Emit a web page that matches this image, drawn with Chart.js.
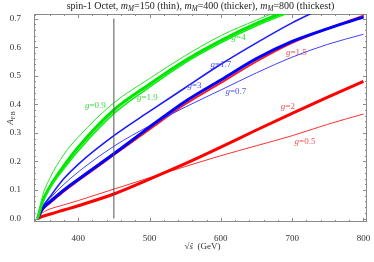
<!DOCTYPE html>
<html>
<head>
<meta charset="utf-8">
<script src="https://cdn.jsdelivr.net/npm/chart.js@4.4.0/dist/chart.umd.min.js"></script>
<style>
  html, body { margin: 0; padding: 0; background: #fff; }
</style>
</head>
<body>
<canvas id="afbChart" width="374" height="262"></canvas>
<script>
// sqrt(s) sample points (GeV)
const sqrtS = [343, 350, 360, 380, 400, 450, 500, 550, 600, 650, 700, 750, 800];

// green: g=0.9 (thin), g=1.9 (thicker), g=4 (thickest)
const green09 = [0, 0.08, 0.14, 0.225, 0.285, 0.405, 0.49, 0.57, 0.64, 0.695, 0.745, 0.79, 0.83];
const green19 = [0, 0.055, 0.105, 0.175, 0.237, 0.367, 0.46, 0.545, 0.615, 0.675, 0.725, 0.77, 0.81];
const green4 = [0, 0.06, 0.11, 0.185, 0.25, 0.38, 0.47, 0.553, 0.623, 0.683, 0.733, 0.778, 0.818];

// blue: g=0.7 (thin), g=1.7 (thicker), g=3 (thickest)
const blue07 = [0, 0.04, 0.07, 0.12, 0.163, 0.253, 0.325, 0.39, 0.45, 0.51, 0.565, 0.61, 0.645];
const blue17 = [0, 0.04, 0.075, 0.14, 0.19, 0.29, 0.375, 0.458, 0.54, 0.615, 0.685, 0.745, 0.80];
const blue3 = [0, 0.035, 0.058, 0.1, 0.137, 0.227, 0.32, 0.41, 0.485, 0.56, 0.62, 0.665, 0.705];

// red: g=0.5 (thin), g=1.5 (thicker), g=2 (thickest)
const red05 = [0, 0.02, 0.033, 0.048, 0.063, 0.103, 0.143, 0.182, 0.22, 0.255, 0.29, 0.33, 0.366];
const red15 = [0, 0.03, 0.053, 0.095, 0.132, 0.222, 0.312, 0.40, 0.475, 0.55, 0.615, 0.665, 0.71];
const red2 = [0, 0.008, 0.015, 0.03, 0.045, 0.086, 0.138, 0.192, 0.25, 0.31, 0.368, 0.425, 0.48];

// vertical marker
const cutX = 450;
const cutTop = 0.7;

// tick labels
const xTicks = [400, 500, 600, 700, 800];
const yTicks = [0, 0.1, 0.2, 0.3, 0.4, 0.5, 0.6, 0.7];

// curve labels
const labelText = ['0.9', '1.9', '4', '1.7', '3', '0.7', '1.5', '2', '0.5'];
const labelX = [424, 497, 625, 600, 563, 621, 706, 694, 718];
const labelY = [0.394, 0.422, 0.633, 0.54, 0.467, 0.443, 0.581, 0.392, 0.27];
const labelColor = ['#3fd93f', '#3fd93f', '#3fd93f', '#5050ee', '#5050ee', '#5050ee', '#f05050', '#f05050', '#f05050'];

const SERIF = '"Liberation Serif", "DejaVu Serif", serif';
const FRAME = '#8a8a8a';

function pts(ys) {
  return sqrtS.map((x, i) => ({ x: x, y: ys[i] }));
}

function curve(ys, color, width) {
  return {
    data: pts(ys),
    borderColor: color,
    borderWidth: width,
    pointRadius: 0,
    fill: false,
    cubicInterpolationMode: 'monotone'
  };
}

// draw a row of text pieces, centered at cx
function richText(ctx, pieces, cx, cy, size) {
  let total = 0;
  pieces.forEach(p => {
    ctx.font = (p.it ? 'italic ' : '') + (p.sub ? size * 0.72 : size) + 'px ' + SERIF;
    p.w = ctx.measureText(p.t).width;
    total += p.w;
  });
  let x = cx - total / 2;
  ctx.textAlign = 'left';
  ctx.textBaseline = 'middle';
  pieces.forEach(p => {
    ctx.font = (p.it ? 'italic ' : '') + (p.sub ? size * 0.72 : size) + 'px ' + SERIF;
    ctx.fillText(p.t, x, cy + (p.sub ? size * 0.3 : 0));
    x += p.w;
  });
}

const framePlugin = {
  id: 'frame',
  beforeDatasetsDraw(chart) {
    const ctx = chart.ctx;
    const a = chart.chartArea;
    const xs = chart.scales.x, ys = chart.scales.y;
    ctx.save();
    ctx.strokeStyle = FRAME;
    ctx.lineWidth = 1;
    ctx.strokeRect(a.left + 0.5, a.top + 0.5, a.right - a.left - 1, a.bottom - a.top - 1);
    ctx.beginPath();
    for (let v = 340; v <= 800; v += 20) {
      const px = Math.round(xs.getPixelForValue(v)) + 0.5;
      const len = v % 100 === 0 ? 4 : 2;
      ctx.moveTo(px, a.bottom); ctx.lineTo(px, a.bottom - len);
      ctx.moveTo(px, a.top); ctx.lineTo(px, a.top + len);
    }
    for (let k = 0; k <= 35; k++) {
      const py = Math.round(ys.getPixelForValue(k * 0.02)) + 0.5;
      const len = k % 5 === 0 ? 4 : 2;
      ctx.moveTo(a.left, py); ctx.lineTo(a.left + len, py);
      ctx.moveTo(a.right, py); ctx.lineTo(a.right - len, py);
    }
    ctx.stroke();
    ctx.restore();
  },
  afterDatasetsDraw(chart) {
    const ctx = chart.ctx;
    const xs = chart.scales.x, ys = chart.scales.y;
    ctx.save();
    labelText.forEach((t, i) => {
      ctx.fillStyle = labelColor[i];
      richText(ctx, [{ t: 'g', it: true }, { t: '=' + t }],
        xs.getPixelForValue(labelX[i]), ys.getPixelForValue(labelY[i]), 9);
    });
    ctx.restore();
  },
  afterDraw(chart) {
    const ctx = chart.ctx;
    const a = chart.chartArea;
    ctx.save();
    ctx.fillStyle = '#222';
    const mM = [{ t: 'm', it: true }, { t: 'M', it: true, sub: true }];
    richText(ctx, [{ t: 'spin-1 Octet, ' }, ...mM, { t: '=150 (thin), ' }, ...mM,
      { t: '=400 (thicker), ' }, ...mM, { t: '=800 (thickest)' }], (a.left + a.right) / 2, 6, 10);
    ctx.fillStyle = '#333';
    richText(ctx, [{ t: '\u221A' }, { t: 's\u0302', it: true }, { t: '  (GeV)' }], (a.left + a.right) / 2 + 2, 247, 9);
    ctx.translate(11, (a.top + a.bottom) / 2);
    ctx.rotate(-Math.PI / 2);
    richText(ctx, [{ t: 'A', it: true }, { t: 'FB', sub: true }], 0, 0, 9);
    ctx.restore();
  }
};

const ctx = document.getElementById('afbChart').getContext('2d');
const afbChart = new Chart(ctx, {
  type: 'line',
  data: {
    datasets: [
      { data: [{ x: cutX, y: 0 }, { x: cutX, y: cutTop }], borderColor: '#555', borderWidth: 1, pointRadius: 0 },
      curve(green09, '#22e622', 1),
      curve(green19, '#11ee11', 1.6),
      curve(green4, '#00e600', 3),
      curve(blue3, '#0000ff', 3),
      curve(blue17, '#1a1aff', 1.6),
      curve(blue07, '#4040ff', 1),
      curve(red15, '#ff1a1a', 1.8),
      curve(red2, '#ff0000', 3),
      curve(red05, '#ff3030', 1)
    ]
  },
  options: {
    responsive: false,
    animation: false,
    devicePixelRatio: 1,
    layout: { padding: { top: 14, right: 7, left: 0, bottom: 0 } },
    plugins: { legend: { display: false }, tooltip: { enabled: false } },
    scales: {
      x: {
        type: 'linear',
        min: 338,
        max: 805,
        afterBuildTicks: s => { s.ticks = xTicks.map(v => ({ value: v })); },
        afterFit: s => { s.height = 40; },
        grid: { display: false },
        border: { display: false },
        ticks: { color: '#333', padding: 3, maxRotation: 0, autoSkip: false, font: { family: SERIF, size: 9 } }
      },
      y: {
        min: -0.012,
        max: 0.716,
        afterBuildTicks: s => { s.ticks = yTicks.map(v => ({ value: v })); },
        afterFit: s => { s.width = 34; },
        grid: { display: false },
        border: { display: false },
        ticks: { color: '#333', padding: 5, autoSkip: false, font: { family: SERIF, size: 9 },
          callback: v => v.toFixed(1) }
      }
    }
  },
  plugins: [framePlugin]
});
</script>
</body>
</html>
